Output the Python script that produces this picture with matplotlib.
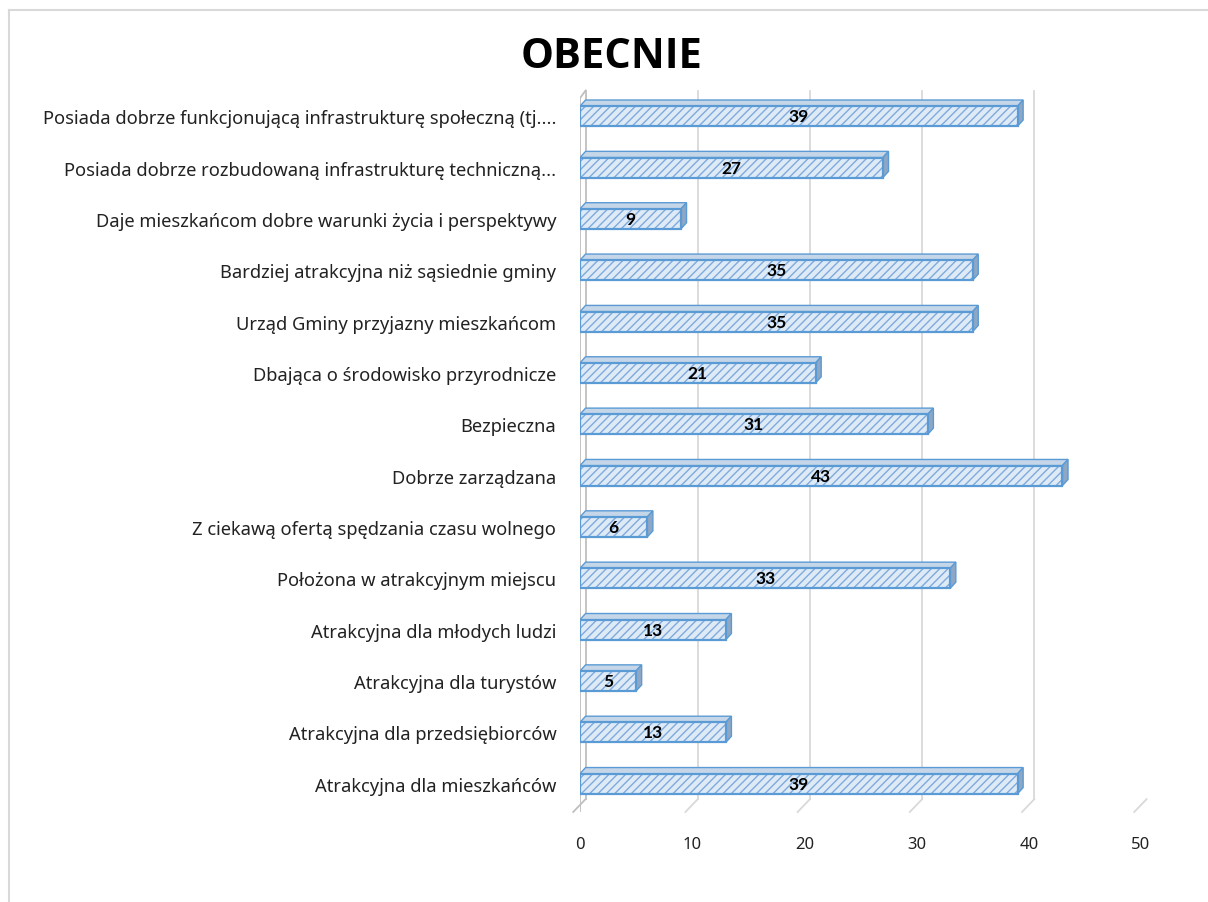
import matplotlib
matplotlib.use("Agg")
import matplotlib.pyplot as plt
from matplotlib.patches import Polygon
from matplotlib.lines import Line2D
import numpy as np

# Dane (od góry do dołu)
categories = [
    "Posiada dobrze funkcjonującą infrastrukturę społeczną (tj....",
    "Posiada dobrze rozbudowaną infrastrukturę techniczną...",
    "Daje mieszkańcom dobre warunki życia i perspektywy",
    "Bardziej atrakcyjna niż sąsiednie gminy",
    "Urząd Gminy przyjazny mieszkańcom",
    "Dbająca o środowisko przyrodnicze",
    "Bezpieczna",
    "Dobrze zarządzana",
    "Z ciekawą ofertą spędzania czasu wolnego",
    "Położona w atrakcyjnym miejscu",
    "Atrakcyjna dla młodych ludzi",
    "Atrakcyjna dla turystów",
    "Atrakcyjna dla przedsiębiorców",
    "Atrakcyjna dla mieszkańców",
]
values = [39, 27, 9, 35, 35, 21, 31, 43, 6, 33, 13, 5, 13, 39]
x_ticks = [0, 10, 20, 30, 40, 50]
title = "OBECNIE"

plt.rcParams["font.family"] = ["Noto Sans", "DejaVu Sans"]
plt.rcParams["hatch.linewidth"] = 1.0

FRONT = "#DEEBF7"
EDGE = "#5B9BD5"
HATCH = "#7FAADC"
TOP = "#C5D6E8"
SIDE = "#8EA7C4"
GRID = "#D9D9D9"

fig = plt.figure(figsize=(12.08, 9.03), dpi=100)
ax = fig.add_axes([0.4801, 0.0997, 0.4644, 0.8018])

n = len(categories)
y = np.arange(n)[::-1]
h = 0.39
dx, dy = 0.5, 0.12
y_lo, y_hi = -0.55, n - 1 + 0.55

# linie siatki z ukośną "podłogą"
for t in x_ticks:
    col = "#BFBFBF" if t == 0 else GRID
    ax.plot([t + dx, t + dx], [y_lo + 0.25, y_hi - 0.05], color=col, lw=1.3, zorder=0)
    ax.plot([t + dx, t - 0.6], [y_lo + 0.25, y_lo], color=col, lw=1.3, zorder=0, clip_on=False)
ax.plot([0, 0], [y_lo, y_hi - 0.2], color="#BFBFBF", lw=1.3, zorder=0)
ax.plot([0, dx], [y_hi - 0.2, y_hi - 0.05], color="#BFBFBF", lw=1.3, zorder=0)

for yi, v in zip(y, values):
    top = Polygon([(0, yi + h / 2), (v, yi + h / 2), (v + dx, yi + h / 2 + dy), (dx, yi + h / 2 + dy)],
                  closed=True, facecolor=TOP, edgecolor=EDGE, lw=1.0, zorder=2)
    side = Polygon([(v, yi - h / 2), (v + dx, yi - h / 2 + dy), (v + dx, yi + h / 2 + dy), (v, yi + h / 2)],
                   closed=True, facecolor=SIDE, edgecolor=EDGE, lw=1.0, zorder=2)
    ax.add_patch(top)
    ax.add_patch(side)

ax.barh(y, values, height=h, color=FRONT, edgecolor=HATCH, hatch="////", lw=0, zorder=3)
ax.barh(y, values, height=h, fill=False, edgecolor=EDGE, lw=1.6, zorder=4)

for yi, v in zip(y, values):
    ax.text(v / 2, yi, str(v), ha="center", va="center", fontsize=12.5, fontweight="bold",
            family="Lato", color="black", zorder=5)

ax.set_xlim(0, 50)
ax.set_ylim(y_lo, y_hi)
ax.set_xticks(x_ticks)
ax.set_xticklabels([str(t) for t in x_ticks], fontsize=12, color="#222222")
ax.set_yticks(y)
ax.set_yticklabels(categories, fontsize=13.2, color="#222222")
ax.tick_params(axis="both", length=0)
ax.tick_params(axis="y", pad=17)
ax.tick_params(axis="x", pad=17)
for s in ax.spines.values():
    s.set_visible(False)

fig.text(0.5066, 0.9358, title, ha="center", va="center", fontsize=30, fontweight="bold",
         family="Open Sans", color="black")

# ramka wykresu (widoczna tylko góra i lewa strona)
fig.add_artist(Line2D([0.0075, 0.0075], [0.0, 0.988], transform=fig.transFigure, color="#D9D9D9", lw=1.5))
fig.add_artist(Line2D([0.0075, 1.0], [0.988, 0.988], transform=fig.transFigure, color="#D9D9D9", lw=1.5))

plt.savefig("out.png", dpi=100)
